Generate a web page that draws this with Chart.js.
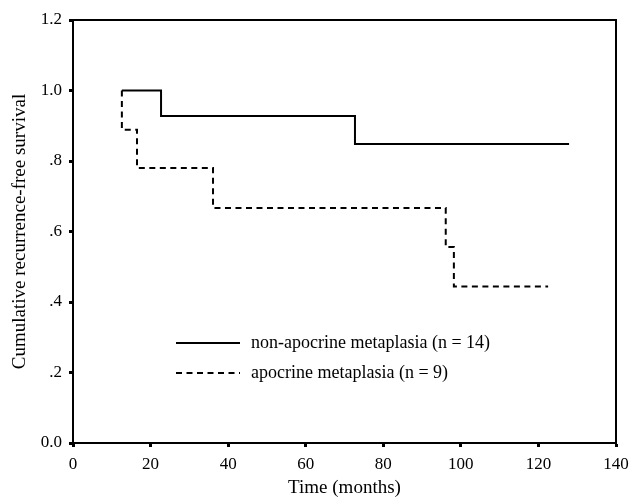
<!DOCTYPE html>
<html>
<head>
<meta charset="utf-8">
<script src="https://cdn.jsdelivr.net/npm/chart.js@4.4.1/dist/chart.umd.min.js"></script>
<style>
  html, body { margin: 0; padding: 0; background: #fff; }
  #wrap { width: 629px; height: 501px; }
</style>
</head>
<body>
<div id="wrap"><canvas id="kmChart" width="629" height="501"></canvas></div>
<script>
// Kaplan-Meier steps (time in months, survival)
const nonApoTime = [12.6, 22.7, 72.7, 127.9];
const nonApoSurv = [1.0, 0.928, 0.848, 0.848];
const apoTime = [12.6, 12.6, 16.5, 36.1, 96.1, 98.2, 122.5];
const apoSurv = [1.0, 0.889, 0.780, 0.667, 0.556, 0.444, 0.444];

const seriesLabels = ["non-apocrine metaplasia (n = 14)", "apocrine metaplasia (n = 9)"];
const xTicks = [0, 20, 40, 60, 80, 100, 120, 140];
const yTickLabels = { 0: "0.0", 0.2: ".2", 0.4: ".4", 0.6: ".6", 0.8: ".8", 1: "1.0", 1.2: "1.2" };

const serif = "'Liberation Serif', 'DejaVu Serif', serif";

function toPoints(xs, ys) {
    return xs.map((x, i) => ({ x: x, y: ys[i] }));
}

// box around plot + legend inside the plot area
const framePlugin = {
    id: "frame",
    afterDatasetsDraw(chart) {
        const { ctx, chartArea: a } = chart;
        ctx.save();
        ctx.strokeStyle = "#000";
        ctx.lineWidth = 2;
        ctx.beginPath();
        ctx.moveTo(a.left, a.top);
        ctx.lineTo(a.right, a.top);
        ctx.lineTo(a.right, a.bottom);
        ctx.stroke();

        // legend
        const rows = [
            { y: 343, dash: [] },
            { y: 373, dash: [6, 4.5] },
        ];
        ctx.font = "18px " + serif;
        ctx.fillStyle = "#000";
        ctx.textBaseline = "middle";
        rows.forEach((r, i) => {
            ctx.setLineDash(r.dash);
            ctx.beginPath();
            ctx.moveTo(176, r.y);
            ctx.lineTo(240, r.y);
            ctx.stroke();
            ctx.setLineDash([]);
            ctx.fillText(seriesLabels[i], 251, r.y);
        });
        ctx.restore();
    },
};

new Chart(document.getElementById("kmChart"), {
    type: "scatter",
    data: {
        datasets: [
            {
                label: seriesLabels[0],
                data: toPoints(nonApoTime, nonApoSurv),
                showLine: true,
                stepped: true,
                borderColor: "#000",
                borderWidth: 2,
                pointRadius: 0,
                fill: false,
            },
            {
                label: seriesLabels[1],
                data: toPoints(apoTime, apoSurv),
                showLine: true,
                stepped: true,
                borderColor: "#000",
                borderWidth: 2,
                borderDash: [6, 4.5],
                pointRadius: 0,
                fill: false,
            },
        ],
    },
    options: {
        responsive: false,
        animation: false,
        layout: { padding: { top: 20, right: 13, left: 0, bottom: 0 } },
        plugins: {
            legend: { display: false },
            tooltip: { enabled: false },
        },
        scales: {
            x: {
                type: "linear",
                min: 0,
                max: 140,
                afterFit: (s) => {
                    s.height = 58;
                    s.paddingLeft = 0;
                    s.paddingRight = 0;
                },
                afterBuildTicks: (s) => { s.ticks = xTicks.map((v) => ({ value: v })); },
                border: { color: "#000", width: 2 },
                grid: { drawOnChartArea: false, drawTicks: true, tickLength: 4, tickWidth: 3, tickColor: "#000" },
                ticks: { color: "#000", padding: 7, font: { family: serif, size: 17 } },
                title: {
                    display: true,
                    text: "Time (months)",
                    color: "#000",
                    font: { family: serif, size: 19, lineHeight: 1.2 },
                    padding: { top: 0, bottom: 2 },
                },
            },
            y: {
                type: "linear",
                min: 0,
                max: 1.2,
                afterFit: (s) => {
                    s.width = 73;
                    s.paddingTop = 0;
                    s.paddingBottom = 0;
                },
                border: { color: "#000", width: 2 },
                grid: { drawOnChartArea: false, drawTicks: true, tickLength: 4, tickWidth: 3, tickColor: "#000" },
                ticks: {
                    stepSize: 0.2,
                    color: "#000",
                    padding: 7,
                    font: { family: serif, size: 17 },
                    callback: (v) => yTickLabels[Math.round(v * 10) / 10],
                },
                title: {
                    display: true,
                    text: "Cumulative recurrence-free survival",
                    color: "#000",
                    font: { family: serif, size: 19, lineHeight: 1.2 },
                    padding: { top: 9, bottom: 0 },
                },
            },
        },
    },
    plugins: [framePlugin],
});
</script>
</body>
</html>
